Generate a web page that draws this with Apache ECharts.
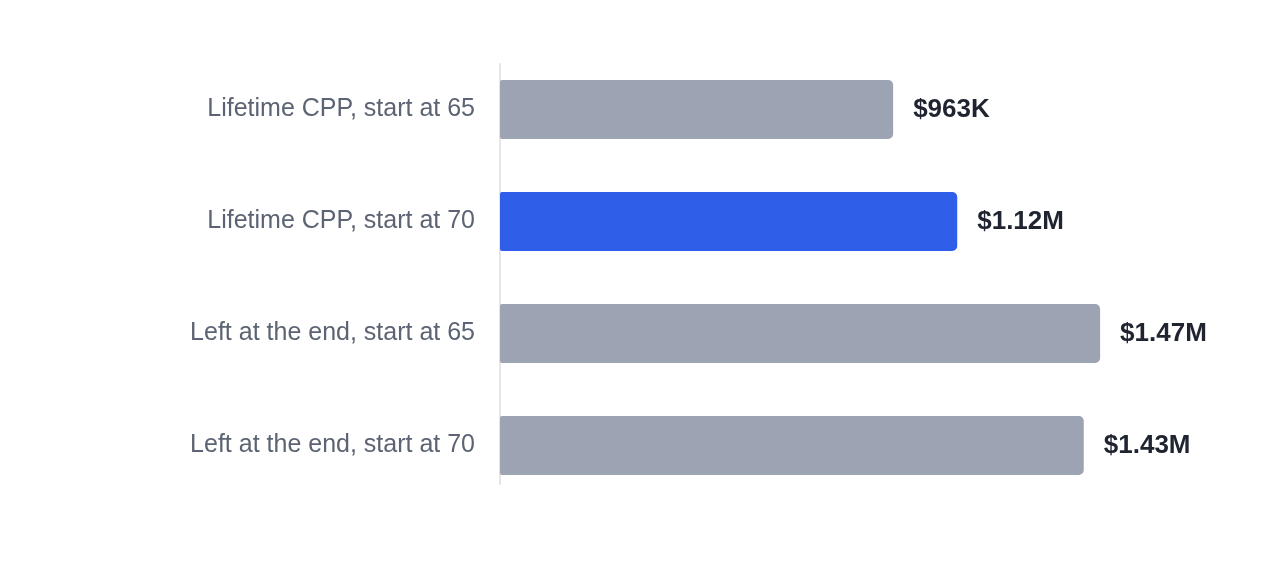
<!DOCTYPE html>
<html>
<head>
<meta charset="utf-8">
<script src="https://cdn.jsdelivr.net/npm/echarts@6/dist/echarts.min.js"></script>
<style>
  html, body { margin: 0; padding: 0; background: #fff; }
  #main { width: 1280px; height: 576px; }
</style>
</head>
<body>
<div id="main"></div>
<script>
// data
const categories = [
  'Lifetime CPP, start at 65',
  'Lifetime CPP, start at 70',
  'Left at the end, start at 65',
  'Left at the end, start at 70'
];
const values = [963000, 1120000, 1470000, 1430000];
const valueLabels = ['$963K', '$1.12M', '$1.47M', '$1.43M'];
const highlightIndex = 1;

const chart = echarts.init(document.getElementById('main'));

const option = {
  animation: false,
  grid: [
    { left: 500, top: 53.5, width: 694, height: 448 },
    // thin grid that only carries the vertical axis line
    { left: 500, top: 64, width: 10, height: 420 }
  ],
  xAxis: [
    { type: 'value', gridIndex: 0, min: 0, max: 1700000, show: false },
    { type: 'value', gridIndex: 1, min: 0, max: 1, show: false }
  ],
  yAxis: [
    {
      type: 'category',
      gridIndex: 0,
      data: categories,
      inverse: true,
      axisLine: { show: false },
      axisTick: { show: false },
      axisLabel: {
        margin: 25,
        color: '#5c6473',
        fontSize: 25,
        fontFamily: '"Liberation Sans", Arial, sans-serif'
      }
    },
    {
      type: 'category',
      gridIndex: 1,
      data: [''],
      axisLine: { show: true, lineStyle: { color: '#e3e5e9', width: 2 } },
      axisTick: { show: false },
      axisLabel: { show: false }
    }
  ],
  series: [{
    type: 'bar',
    xAxisIndex: 0,
    yAxisIndex: 0,
    barWidth: 59,
    data: values.map((v, i) => ({
      value: v,
      itemStyle: { color: i === highlightIndex ? '#2f5ee8' : '#9ca4b4' }
    })),
    itemStyle: { borderRadius: [2, 5, 5, 2] },
    label: {
      show: true,
      position: 'right',
      distance: 20,
      formatter: p => valueLabels[p.dataIndex],
      color: '#1f2430',
      fontSize: 26,
      fontWeight: 'bold',
      fontFamily: '"Liberation Sans", Arial, sans-serif'
    }
  }]
};

chart.setOption(option);
</script>
</body>
</html>
